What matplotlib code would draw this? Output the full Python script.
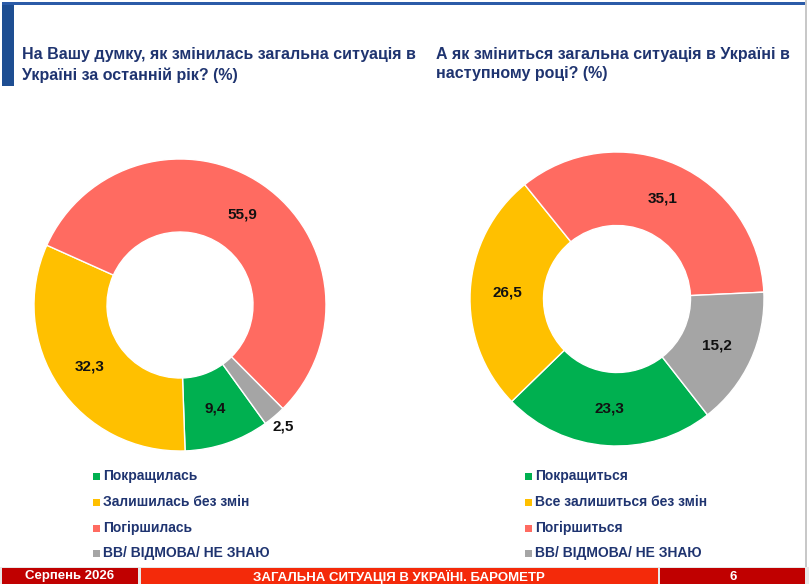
import matplotlib
matplotlib.use("Agg")
import matplotlib.pyplot as plt
from matplotlib.patches import Rectangle
import numpy as np

plt.rcParams['font.family'] = ['Liberation Sans', 'DejaVu Sans']

# ---- data ----
categories_left = ["Покращилась", "Залишилась без змін", "Погіршилась", "ВВ/ ВІДМОВА/ НЕ ЗНАЮ"]
values_left = [9.4, 32.3, 55.9, 2.5]
categories_right = ["Покращиться", "Все залишиться без змін", "Погіршиться", "ВВ/ ВІДМОВА/ НЕ ЗНАЮ"]
values_right = [23.3, 26.5, 35.1, 15.2]
colors = ["#00B050", "#FFC000", "#FF6B61", "#A5A5A5"]
title_left = "На Вашу думку, як змінилась загальна ситуація в\nУкраїні за останній рік? (%)"
title_right = "А як зміниться загальна ситуація в Україні в\nнаступному році? (%)"
footer_left = "Серпень 2026"
footer_mid = "ЗАГАЛЬНА СИТУАЦІЯ В УКРАЇНІ. БАРОМЕТР"
footer_right = "6"

W, H = 809, 584
fig = plt.figure(figsize=(W / 100, H / 100), dpi=100)
fig.patch.set_facecolor("white")

def fx(x):
    return x / W

def fy(y):
    return 1 - y / H

navy = "#1F3470"

# top frame line and left blue bar
fig.add_artist(Rectangle((fx(2), fy(5)), fx(803), 3 / H, transform=fig.transFigure,
                         color="#2B5BA8", lw=0))
fig.add_artist(Rectangle((fx(2), fy(86)), fx(12), 81 / H, transform=fig.transFigure,
                         color="#1E4E92", lw=0))
fig.add_artist(Rectangle((fx(805), 0), fx(1.5), 1, transform=fig.transFigure,
                         color="#C8C8C8", lw=0))

# titles
fig.text(fx(22), fy(65), title_left, ha="left", va="center", fontsize=11.5,
         fontweight="bold", color=navy, linespacing=1.45)
fig.text(fx(436), fy(64), title_right, ha="left", va="center", fontsize=11.5,
         fontweight="bold", color=navy, linespacing=1.4)

def donut(cx, cy, r, values, startangle, outside_idx=None):
    ax = fig.add_axes([fx(cx - r), fy(cy + r), 2 * r / W, 2 * r / H])
    wedges, _ = ax.pie(values, colors=colors, startangle=startangle, counterclock=False,
                       radius=1, wedgeprops=dict(width=0.5, edgecolor="white", linewidth=1))
    for i, (w, v) in enumerate(zip(wedges, values)):
        ang = np.deg2rad((w.theta1 + w.theta2) / 2)
        rr = 1.09 if i == outside_idx else 0.75
        ax.text(rr * np.cos(ang), rr * np.sin(ang), f"{v:.1f}".replace(".", ","),
                ha="center", va="center", fontsize=11, fontweight="bold", color="#111111")
    ax.set_xlim(-1, 1)
    ax.set_ylim(-1, 1)
    ax.set_aspect("equal")
    ax.axis("off")

donut(180, 305, 146, values_left, -54.2, outside_idx=3)
donut(617, 299, 147, values_right, -52.0)

# legends
def legend(x, cats):
    ys = [476, 502, 528, 553]
    for c, col, y in zip(cats, colors, ys):
        fig.add_artist(Rectangle((fx(x), fy(y + 3.5)), 7 / W, 7 / H, transform=fig.transFigure,
                                 color=col, lw=0))
        fig.text(fx(x + 10), fy(y), c, ha="left", va="center", fontsize=10,
                 fontweight="bold", color=navy)

legend(93, categories_left)
legend(525, categories_right)

# footer
fig.add_artist(Rectangle((fx(0), 0), 1, 17 / H, transform=fig.transFigure, color="#E8E8E8", lw=0))
fig.add_artist(Rectangle((fx(2), 0), fx(136), 16 / H, transform=fig.transFigure, color="#C00000", lw=0))
fig.add_artist(Rectangle((fx(141), 0), fx(517), 16 / H, transform=fig.transFigure, color="#F42A0A", lw=0))
fig.add_artist(Rectangle((fx(660), 0), fx(145), 16 / H, transform=fig.transFigure, color="#C00000", lw=0))
fig.text(fx(70), fy(576.5), footer_left, ha="center", va="center", fontsize=9.5,
         fontweight="bold", color="white")
fig.text(fx(399), fy(576.5), footer_mid, ha="center", va="center", fontsize=9.5,
         fontweight="bold", color="white")
fig.text(fx(733), fy(576.5), footer_right, ha="center", va="center", fontsize=9.5,
         fontweight="bold", color="white")

fig.savefig("out.png", dpi=100, facecolor="white")
